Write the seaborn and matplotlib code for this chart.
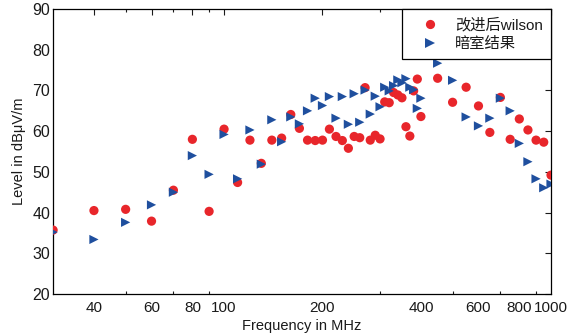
import numpy as np
import pandas as pd
import matplotlib
matplotlib.use("Agg")
import matplotlib.pyplot as plt
import seaborn as sns
from matplotlib.ticker import FixedLocator, NullFormatter

freq = [30, 40, 50, 60, 70, 80, 90, 100,
        110, 120, 130, 140, 150, 160, 170, 180, 190, 200,
        210, 220, 230, 240, 250, 260, 270, 280, 290, 300,
        310, 320, 330, 340, 350, 360, 370, 380, 390, 400,
        450, 500, 550, 600, 650, 700, 750, 800, 850, 900, 950, 1000]

wilson = [35.7, 40.5, 40.8, 37.9, 45.5, 58.0, 40.3, 60.5,
          47.4, 57.8, 52.1, 57.8, 58.3, 64.1, 60.7, 57.8, 57.7, 57.8,
          60.5, 58.7, 57.7, 55.8, 58.7, 58.4, 70.7, 57.8, 59.0, 58.1,
          67.2, 67.0, 69.5, 68.9, 68.2, 61.1, 58.8, 69.9, 72.8, 63.6,
          73.0, 67.1, 70.8, 66.2, 59.7, 68.3, 58.0, 63.0, 60.3, 57.8, 57.3, 49.2]

chamber = [35.2, 33.4, 37.6, 41.9, 45.0, 54.0, 49.4, 59.2,
           48.3, 60.3, 51.9, 62.8, 57.4, 63.5, 61.8, 65.0, 68.1, 66.3,
           68.5, 63.2, 68.5, 61.7, 69.2, 62.2, 70.1, 64.2, 68.6, 66.0,
           70.8, 69.9, 71.2, 72.6, 71.9, 72.9, 70.8, 70.2, 65.6, 68.1,
           76.7, 72.5, 63.5, 61.3, 63.2, 68.1, 65.0, 57.0, 52.5, 48.3, 46.1, 47.0]

series_names = ["改进后wilson", "暗室结果"]
xtick_vals = [40, 60, 80, 100, 200, 400, 600, 800, 1000]
xtick_labels = ["40", "60", "80", "100", "200", "400", "600", "800", "1000"]
ytick_vals = [20, 30, 40, 50, 60, 70, 80, 90]

df = pd.DataFrame({
    "freq": freq * 2,
    "level": wilson + chamber,
    "series": [series_names[0]] * len(freq) + [series_names[1]] * len(freq),
})

sns.set_theme(style="white")
plt.rcParams["font.family"] = ["Liberation Sans", "Noto Sans CJK SC", "DejaVu Sans"]
plt.rcParams["text.color"] = "#1a1a1a"
plt.rcParams["axes.labelcolor"] = "#1a1a1a"
plt.rcParams["xtick.color"] = "#1a1a1a"
plt.rcParams["ytick.color"] = "#1a1a1a"

fig = plt.figure(figsize=(5.71, 3.36), dpi=100)
ax = fig.add_axes([0.093, 0.125, 0.872, 0.848])

sns.scatterplot(data=df, x="freq", y="level", hue="series", style="series",
                markers={series_names[0]: "o", series_names[1]: ">"},
                palette={series_names[0]: "#E8262B", series_names[1]: "#1F4F9E"},
                s=44, linewidth=0, ax=ax, legend=True, zorder=3)

ax.set_xscale("log")
ax.set_xlim(30, 1000)
ax.set_ylim(20, 90)
ax.xaxis.set_major_locator(FixedLocator(xtick_vals))
ax.set_xticklabels(xtick_labels)
ax.xaxis.set_minor_locator(FixedLocator([50, 70, 90, 300, 500, 700, 900]))
ax.xaxis.set_minor_formatter(NullFormatter())
ax.set_yticks(ytick_vals)

ax.tick_params(axis="both", which="major", direction="in", length=4, width=0.8,
               top=True, right=True, labelsize=11)
ax.tick_params(axis="x", which="major", pad=5)
ax.tick_params(axis="y", which="major", pad=2, labelsize=11.5)
ax.tick_params(axis="x", which="minor", direction="in", length=2.5, width=0.8,
               top=True, bottom=True)
for sp in ax.spines.values():
    sp.set_color("black")
    sp.set_linewidth(0.9)

ax.set_xlabel("Frequency in MHz", fontsize=10.5, labelpad=3)
ax.set_ylabel("Level in dBμV/m", fontsize=10.5, labelpad=4.5)

leg = ax.legend(loc="upper right", borderaxespad=0, fancybox=False,
                framealpha=1, edgecolor="black", fontsize=11,
                handletextpad=0.3, borderpad=0.55, labelspacing=0.32,
                handlelength=2.6)
leg.get_frame().set_linewidth(0.9)
leg.set_title(None)

fig.savefig("out.png", dpi=100)
